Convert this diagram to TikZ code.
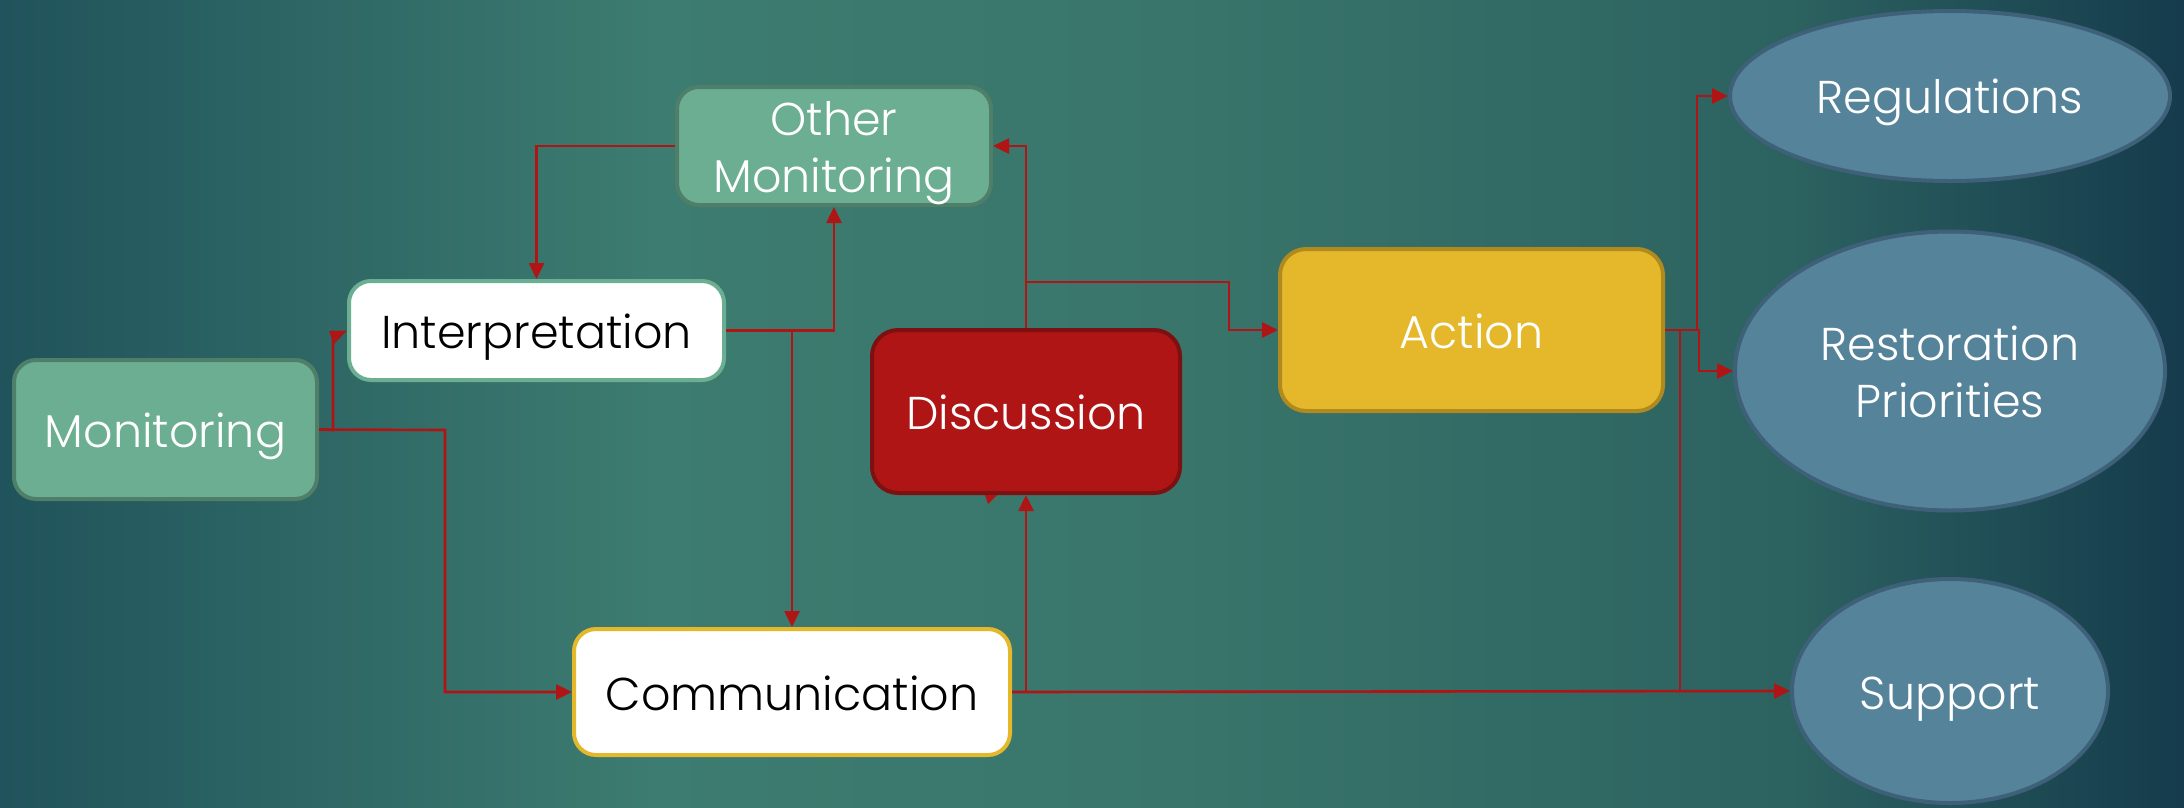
\documentclass[tikz,border=0pt]{standalone}
\usepackage{fontspec}
\setmainfont{Poppins Light}
\usetikzlibrary{arrows.meta,shapes.geometric}
\definecolor{bgA}{HTML}{20535B}
\definecolor{bgB}{HTML}{3D7C70}
\definecolor{bgC}{HTML}{39756B}
\definecolor{bgE}{HTML}{2C6260}
\definecolor{bgD}{HTML}{153B4C}
\definecolor{gfill}{HTML}{6BAE91}
\definecolor{gline}{HTML}{4F7E69}
\definecolor{rfill}{HTML}{B01515}
\definecolor{rline}{HTML}{7D1010}
\definecolor{yfill}{HTML}{E4B82A}
\definecolor{yline}{HTML}{B08A1F}
\definecolor{efill}{HTML}{55849A}
\definecolor{eline}{HTML}{3E6079}
\definecolor{conn}{HTML}{B01515}
\newcommand\myhi{\rule{0pt}{48pt}}
\newcommand\mylo{\rule[-12pt]{0pt}{12pt}}
\pgfdeclarehorizontalshading{bgsh}{100bp}{color(0bp)=(bgA); color(25bp)=(bgA); color(40bp)=(bgB); color(52bp)=(bgC); color(66bp)=(bgE); color(75bp)=(bgD); color(100bp)=(bgD)}
\tikzset{
  box/.style={rectangle, rounded corners=22pt, line width=4pt, align=center,
    font=\fontsize{46}{57}\selectfont, inner sep=0pt},
  oval/.style={ellipse, line width=4pt, fill=efill, draw=eline, align=center,
    text=white, font=\fontsize{46}{57}\selectfont, inner sep=0pt},
  link/.style={draw=conn, line width=2.6pt},
  arr/.style={link, -{Triangle[length=16pt,width=15pt]}},
}
\begin{document}
\begin{tikzpicture}[x=1pt,y=-1pt]
\useasboundingbox (0,0) rectangle (2184,807);
\shade[shading=bgsh] (0,0) rectangle (2184,807);

\node[box, fill=gfill, draw=gline, text=white, minimum width=303pt, minimum height=139pt] (mon) at (165.5,429.5) {\myhi Monitoring\mylo};
\node[box, fill=white, draw=gfill, text=black, minimum width=375pt, minimum height=99pt] (interp) at (536.5,330.5) {\myhi Interpretation\mylo};
\node[box, fill=gfill, draw=gline, text=white, minimum width=314pt, minimum height=118pt] (om) at (834,146) {\myhi Other\\Monitoring\mylo};
\node[box, fill=rfill, draw=rline, text=white, rounded corners=26pt, minimum width=308pt, minimum height=163pt] (disc) at (1026,411.5) {\myhi Discussion\mylo};
\node[box, fill=white, draw=yfill, text=black, minimum width=436pt, minimum height=126pt] (comm) at (792,692) {\myhi Communication\mylo};
\node[box, fill=yfill, draw=yline, text=white, rounded corners=26pt, minimum width=383pt, minimum height=162pt] (act) at (1471.5,330) {\myhi Action\mylo};
\node[oval, minimum width=440pt, minimum height=170pt] (reg) at (1950,96) {\myhi Regulations\mylo};
\node[oval, minimum width=430pt, minimum height=279pt] (rest) at (1950,371) {\myhi Restoration\\Priorities\mylo};
\node[oval, minimum width=316pt, minimum height=224pt] (sup) at (1950,691) {\myhi Support\mylo};

\coordinate (j1) at (333,430);
\coordinate (j2) at (445,430);
\coordinate (j3) at (1229,282);
\coordinate (j4) at (1697,330);
\coordinate (j5) at (1699,330);
\coordinate (j6) at (1680,330);

% Monitoring -> Interpretation
\draw[link] (mon.east) -- (j1) -- (j1 |- interp.west);
\fill[conn] (329,331) -- (interp.west) -- (334,344) -- cycle;
% Monitoring -> Communication
\draw[arr] (mon.east) -- (j2) |- (comm.west);
% Interpretation -> Other Monitoring
\draw[arr] (interp.east) -| (om.south);
% Interpretation -> Communication
\draw[arr] (comm.north |- interp.east) -- (comm.north);
% Other Monitoring -> Interpretation
\draw[arr] (om.west) -| (interp.north);
% Discussion -> Other Monitoring
\draw[arr] (disc.north) |- (om.east);
% Discussion -> Action
\draw[arr] (disc.north |- j3) -- (j3) |- (act.west);
% Communication -> Discussion
\draw[arr] (comm.east) -| (disc.south);
\fill[conn] (985,495) -- (997,495) -- (988,504) -- cycle;
% Communication -> Support
\draw[arr] (comm.east) -- (sup.west);
% Action -> Regulations / Restoration / Support
\draw[arr] (act.east) -- (j4) |- (reg.west);
\draw[arr] (act.east) -- (j5) |- (rest.west);
\draw[link] (act.east) -- (j6) -- (j6 |- sup.west);
\end{tikzpicture}
\end{document}
